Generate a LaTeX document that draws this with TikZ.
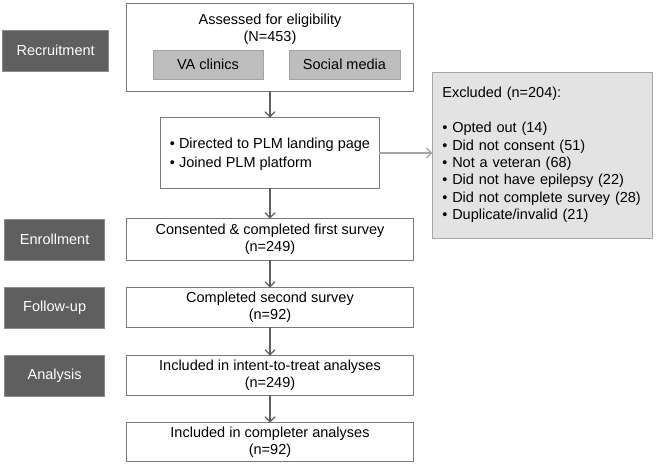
\documentclass[tikz,border=0pt]{standalone}
\usepackage{fontspec}
\setmainfont{Liberation Sans}
\usepackage{xcolor}
\usetikzlibrary{positioning,arrows.meta}

\definecolor{boxline}{HTML}{7A7A7A}
\definecolor{stagefill}{HTML}{5F5F5F}
\definecolor{stageline}{HTML}{8A8A8A}
\definecolor{srcfill}{HTML}{BDBDBD}
\definecolor{srcline}{HTML}{A3A3A3}
\definecolor{exclfill}{HTML}{E3E3E3}
\definecolor{exclline}{HTML}{A6A6A6}
\definecolor{arrowgray}{HTML}{606060}

\tikzset{
  flowbox/.style={draw=boxline, line width=1.3pt, fill=white, minimum width=286.7pt, minimum height=39.7pt, align=center, inner sep=0pt, outer sep=0pt},
  stagebox/.style={draw=stageline, line width=0.6pt, fill=stagefill, text=white, minimum width=100pt, minimum height=41pt, inner sep=0pt, outer sep=0pt},
  srcbox/.style={draw=srcline, line width=0.6pt, fill=srcfill, minimum height=29pt, inner sep=0pt},
  flowarrow/.style={draw=arrowgray, line width=1.3pt, -{Straight Barb[length=5pt,width=10pt]}}
}

\begin{document}
\begin{tikzpicture}[x=1pt, y=1pt, every node/.style={font=\fontsize{14.5}{17.4}\selectfont}]
\useasboundingbox (0,0) rectangle (656,464);

% main column
\node[flowbox, minimum height=87.7pt] (assess) at (270,416.5) {};
\node[below=10pt of assess.north, align=center, inner sep=0pt] (assesstxt) {Assessed for eligibility\\(N=453)};
\node[srcbox, minimum width=110pt] (va) at ([xshift=-62pt, yshift=-17pt]assess.center) {VA clinics};
\node[srcbox, minimum width=111pt] (social) at ([xshift=74.5pt, yshift=-17pt]assess.center) {Social media};
\node[flowbox, minimum width=218.7pt, minimum height=70.7pt, below=26.3pt of assess] (landing) {};
\node[align=left, inner sep=0pt] (landingtxt) at ([yshift=-1pt]landing.center) {\textbullet\ Directed to PLM landing page\\[2pt]\textbullet\ Joined PLM platform};
\node[flowbox, minimum height=41.7pt, below=30.3pt of landing] (consent) {Consented \& completed first survey\\(n=249)};
\node[flowbox, below=27.3pt of consent] (second) {Completed second survey\\(n=92)};
\node[flowbox, below=28.3pt of second] (itt) {Included in intent-to-treat analyses\\(n=249)};
\node[flowbox, minimum height=38.7pt, below=27.3pt of itt] (completer) {Included in completer analyses\\(n=92)};

% excluded
\node[draw=exclline, line width=0.8pt, fill=exclfill, minimum width=220pt, minimum height=166pt, text width=200pt, align=left, inner xsep=10pt, outer sep=0pt, right=53pt of landing, yshift=-2pt] (excluded)
  {Excluded (n=204):\\[17.4pt]
   \textbullet\ Opted out (14)\\
   \textbullet\ Did not consent (51)\\
   \textbullet\ Not a veteran (68)\\
   \textbullet\ Did not have epilepsy (22)\\
   \textbullet\ Did not complete survey (28)\\
   \textbullet\ Duplicate/invalid (21)};

% stages
\node[stagebox, minimum width=106pt, left=18pt of assess, yshift=-3pt] (recruit) {Recruitment};
\node[stagebox, left=22pt of consent] (enroll) {Enrollment};
\node[stagebox, left=22pt of second] (follow) {Follow-up};
\node[stagebox, left=22pt of itt] (analysis) {Analysis};

\draw[flowarrow] (assess) -- (landing);
\draw[flowarrow] (landing) -- (consent);
\draw[flowarrow] (consent) -- (second);
\draw[flowarrow] (second) -- (itt);
\draw[flowarrow] (itt) -- (completer);
\draw[flowarrow, draw=exclline] (landing.east) -- (landing.east -| excluded.west);
\end{tikzpicture}
\end{document}
